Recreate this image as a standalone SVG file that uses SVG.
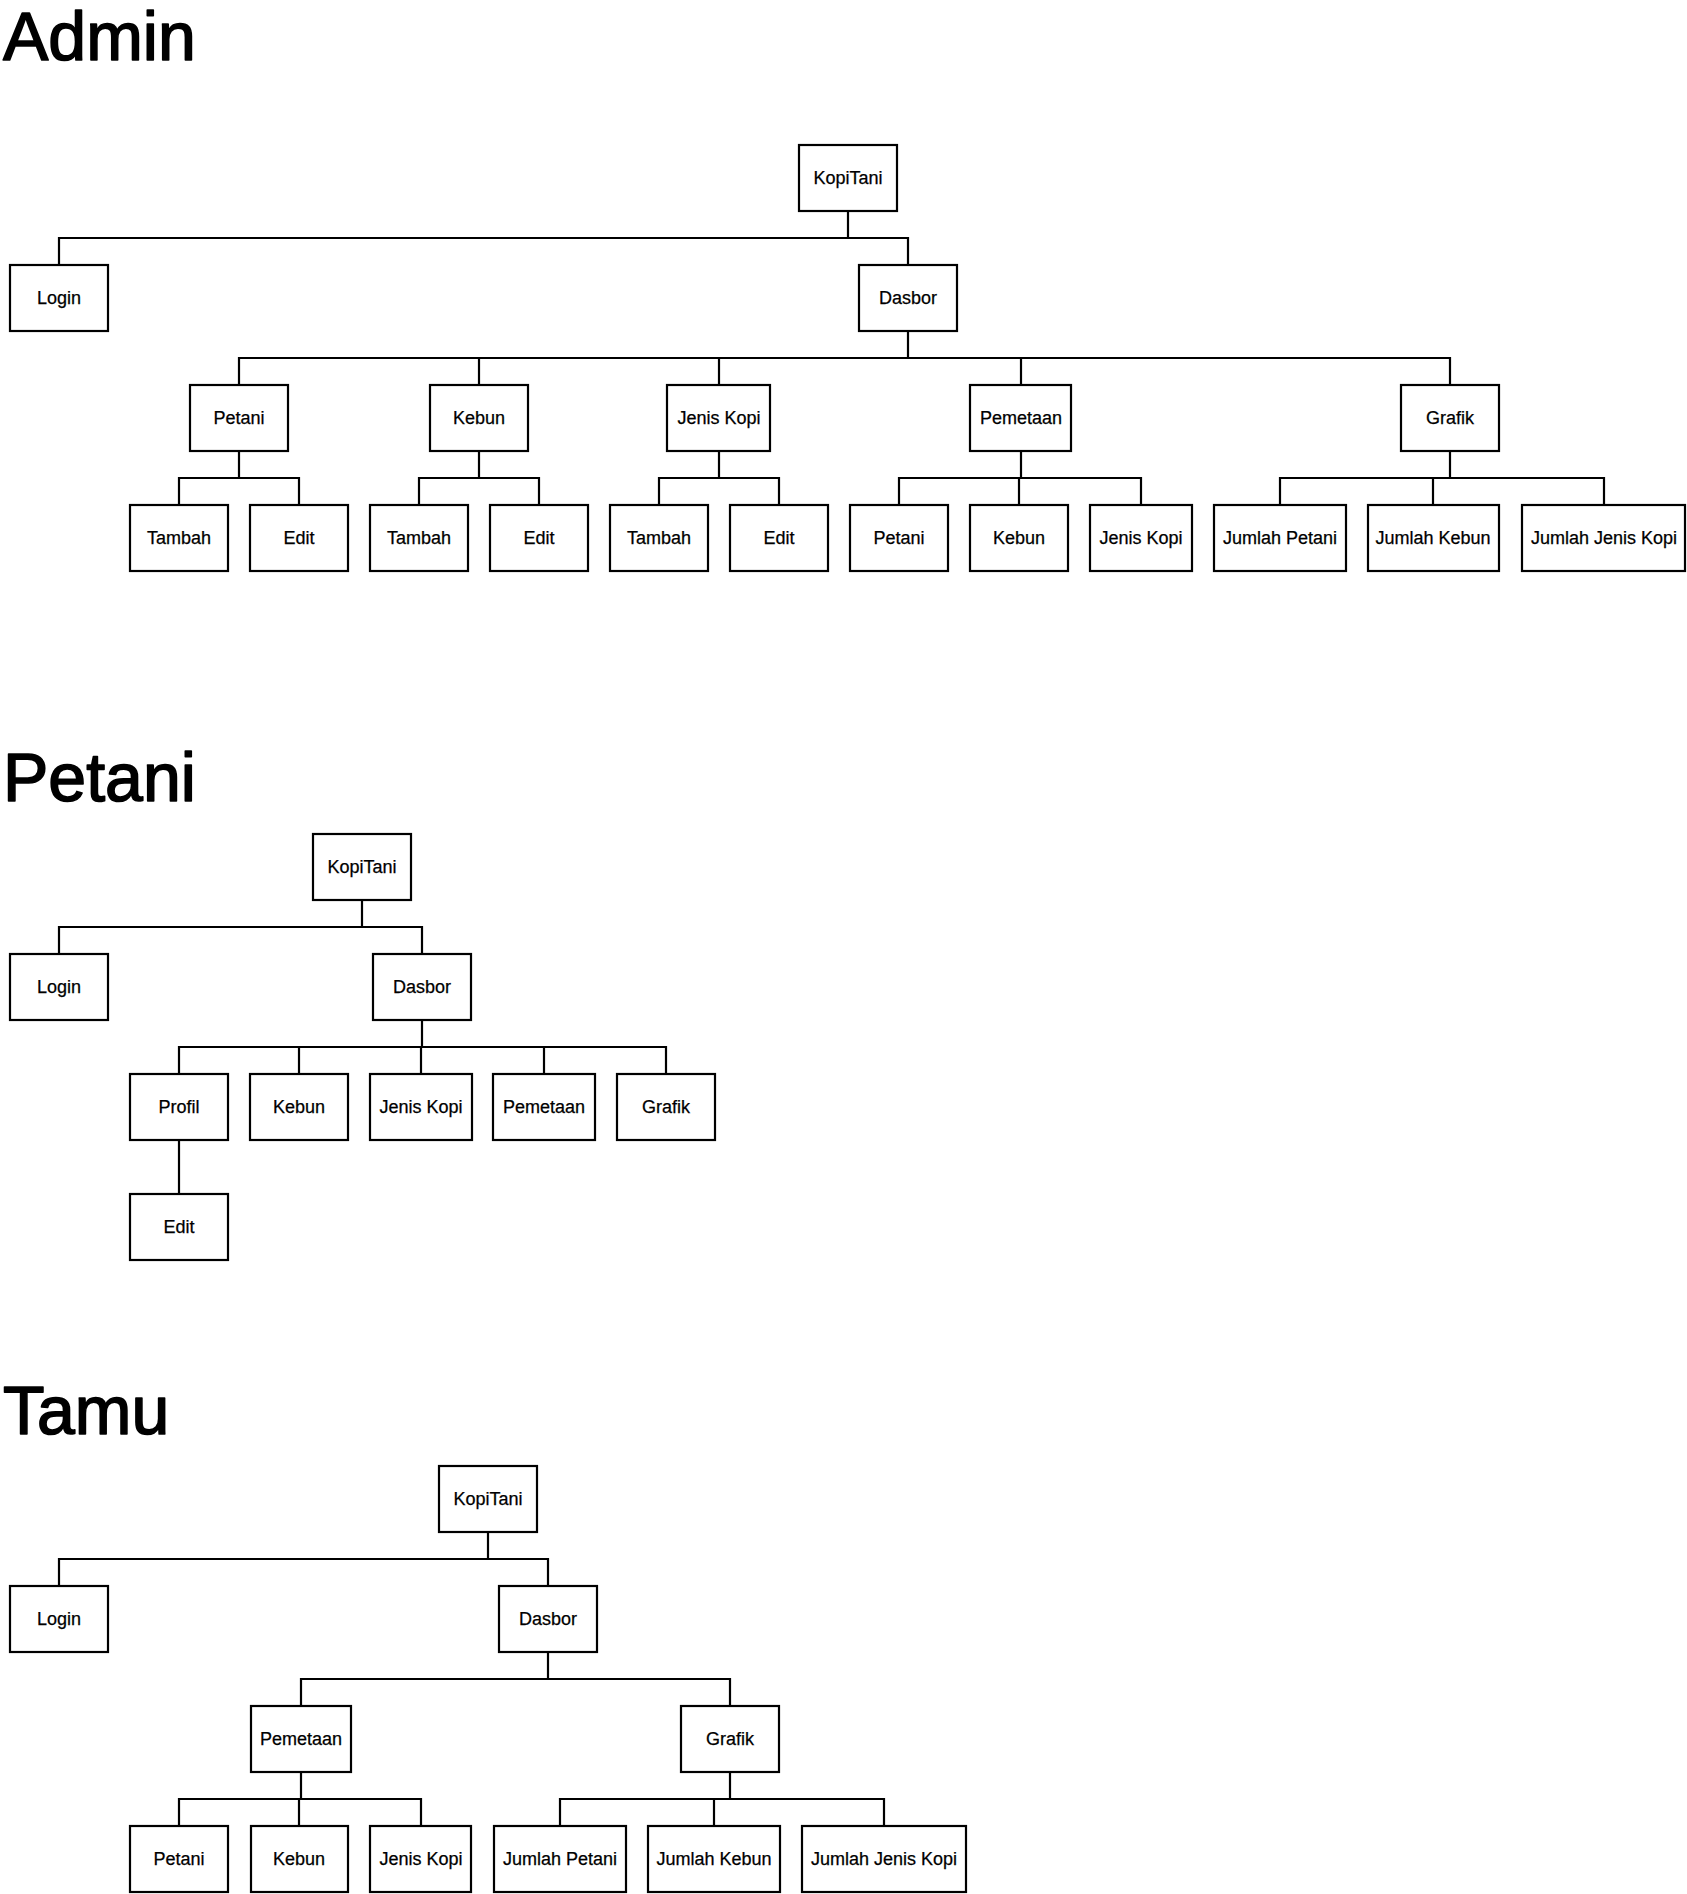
<svg xmlns="http://www.w3.org/2000/svg" width="1687" height="1894" viewBox="0 0 1687 1894">
<style>
.box{fill:#fff;stroke:#000;stroke-width:2.2}
.lbl{font-family:"Liberation Sans",Arial,sans-serif;font-size:18px;text-anchor:middle;fill:#000;stroke:#000;stroke-width:0.25}
.title{font-family:"Liberation Sans",Arial,sans-serif;font-size:68px;fill:#000;stroke:#000;stroke-width:1.6;stroke-linejoin:round}
.conn{fill:none;stroke:#000;stroke-width:2.2}
</style>
<rect width="1687" height="1894" fill="#fff"/>
<text class="title" x="3" y="60">Admin</text>
<text class="title" x="3" y="801">Petani</text>
<text class="title" x="3" y="1434">Tamu</text>

<g id="connectors">
<!-- Admin -->
<path class="conn" d="M848 211V238H59V265"/>
<path class="conn" d="M848 238H908V265"/>
<path class="conn" d="M908 331V358H239V385"/>
<path class="conn" d="M908 358H1450V385"/>
<path class="conn" d="M479 358V385"/>
<path class="conn" d="M719 358V385"/>
<path class="conn" d="M1021 358V385"/>
<path class="conn" d="M239 451V478H179V505"/>
<path class="conn" d="M239 478H299V505"/>
<path class="conn" d="M479 451V478H419V505"/>
<path class="conn" d="M479 478H539V505"/>
<path class="conn" d="M719 451V478H659V505"/>
<path class="conn" d="M719 478H779V505"/>
<path class="conn" d="M1021 451V478H899V505"/>
<path class="conn" d="M1021 478H1141V505"/>
<path class="conn" d="M1019 478V505"/>
<path class="conn" d="M1450 451V478H1280V505"/>
<path class="conn" d="M1450 478H1604V505"/>
<path class="conn" d="M1433 478V505"/>
<!-- Petani -->
<path class="conn" d="M362 900V927H59V954"/>
<path class="conn" d="M362 927H422V954"/>
<path class="conn" d="M422 1020V1047H179V1074"/>
<path class="conn" d="M422 1047H666V1074"/>
<path class="conn" d="M299 1047V1074"/>
<path class="conn" d="M421 1047V1074"/>
<path class="conn" d="M544 1047V1074"/>
<path class="conn" d="M179 1140V1194"/>
<!-- Tamu -->
<path class="conn" d="M488 1532V1559H59V1586"/>
<path class="conn" d="M488 1559H548V1586"/>
<path class="conn" d="M548 1652V1679H301V1706"/>
<path class="conn" d="M548 1679H730V1706"/>
<path class="conn" d="M301 1772V1799H179V1826"/>
<path class="conn" d="M301 1799H421V1826"/>
<path class="conn" d="M299 1799V1826"/>
<path class="conn" d="M730 1772V1799H560V1826"/>
<path class="conn" d="M730 1799H884V1826"/>
<path class="conn" d="M714 1799V1826"/>
</g>

<!-- Admin nodes -->
<g id="a-kopitani"><rect class="box" x="799" y="145" width="98" height="66"/><text class="lbl" x="848" y="184">KopiTani</text></g>
<g id="a-login"><rect class="box" x="10" y="265" width="98" height="66"/><text class="lbl" x="59" y="304">Login</text></g>
<g id="a-dasbor"><rect class="box" x="859" y="265" width="98" height="66"/><text class="lbl" x="908" y="304">Dasbor</text></g>
<g id="a-petani"><rect class="box" x="190" y="385" width="98" height="66"/><text class="lbl" x="239" y="424">Petani</text></g>
<g id="a-kebun"><rect class="box" x="430" y="385" width="98" height="66"/><text class="lbl" x="479" y="424">Kebun</text></g>
<g id="a-jeniskopi"><rect class="box" x="667" y="385" width="103" height="66"/><text class="lbl" x="719" y="424">Jenis Kopi</text></g>
<g id="a-pemetaan"><rect class="box" x="970" y="385" width="101" height="66"/><text class="lbl" x="1021" y="424">Pemetaan</text></g>
<g id="a-grafik"><rect class="box" x="1401" y="385" width="98" height="66"/><text class="lbl" x="1450" y="424">Grafik</text></g>
<g id="a-petani-tambah"><rect class="box" x="130" y="505" width="98" height="66"/><text class="lbl" x="179" y="544">Tambah</text></g>
<g id="a-petani-edit"><rect class="box" x="250" y="505" width="98" height="66"/><text class="lbl" x="299" y="544">Edit</text></g>
<g id="a-kebun-tambah"><rect class="box" x="370" y="505" width="98" height="66"/><text class="lbl" x="419" y="544">Tambah</text></g>
<g id="a-kebun-edit"><rect class="box" x="490" y="505" width="98" height="66"/><text class="lbl" x="539" y="544">Edit</text></g>
<g id="a-jenis-tambah"><rect class="box" x="610" y="505" width="98" height="66"/><text class="lbl" x="659" y="544">Tambah</text></g>
<g id="a-jenis-edit"><rect class="box" x="730" y="505" width="98" height="66"/><text class="lbl" x="779" y="544">Edit</text></g>
<g id="a-map-petani"><rect class="box" x="850" y="505" width="98" height="66"/><text class="lbl" x="899" y="544">Petani</text></g>
<g id="a-map-kebun"><rect class="box" x="970" y="505" width="98" height="66"/><text class="lbl" x="1019" y="544">Kebun</text></g>
<g id="a-map-jenis"><rect class="box" x="1090" y="505" width="102" height="66"/><text class="lbl" x="1141" y="544">Jenis Kopi</text></g>
<g id="a-jml-petani"><rect class="box" x="1214" y="505" width="132" height="66"/><text class="lbl" x="1280" y="544">Jumlah Petani</text></g>
<g id="a-jml-kebun"><rect class="box" x="1368" y="505" width="131" height="66"/><text class="lbl" x="1433" y="544">Jumlah Kebun</text></g>
<g id="a-jml-jenis"><rect class="box" x="1522" y="505" width="163" height="66"/><text class="lbl" x="1604" y="544">Jumlah Jenis Kopi</text></g>

<!-- Petani nodes -->
<g id="p-kopitani"><rect class="box" x="313" y="834" width="98" height="66"/><text class="lbl" x="362" y="873">KopiTani</text></g>
<g id="p-login"><rect class="box" x="10" y="954" width="98" height="66"/><text class="lbl" x="59" y="993">Login</text></g>
<g id="p-dasbor"><rect class="box" x="373" y="954" width="98" height="66"/><text class="lbl" x="422" y="993">Dasbor</text></g>
<g id="p-profil"><rect class="box" x="130" y="1074" width="98" height="66"/><text class="lbl" x="179" y="1113">Profil</text></g>
<g id="p-kebun"><rect class="box" x="250" y="1074" width="98" height="66"/><text class="lbl" x="299" y="1113">Kebun</text></g>
<g id="p-jeniskopi"><rect class="box" x="370" y="1074" width="102" height="66"/><text class="lbl" x="421" y="1113">Jenis Kopi</text></g>
<g id="p-pemetaan"><rect class="box" x="493" y="1074" width="102" height="66"/><text class="lbl" x="544" y="1113">Pemetaan</text></g>
<g id="p-grafik"><rect class="box" x="617" y="1074" width="98" height="66"/><text class="lbl" x="666" y="1113">Grafik</text></g>
<g id="p-edit"><rect class="box" x="130" y="1194" width="98" height="66"/><text class="lbl" x="179" y="1233">Edit</text></g>

<!-- Tamu nodes -->
<g id="t-kopitani"><rect class="box" x="439" y="1466" width="98" height="66"/><text class="lbl" x="488" y="1505">KopiTani</text></g>
<g id="t-login"><rect class="box" x="10" y="1586" width="98" height="66"/><text class="lbl" x="59" y="1625">Login</text></g>
<g id="t-dasbor"><rect class="box" x="499" y="1586" width="98" height="66"/><text class="lbl" x="548" y="1625">Dasbor</text></g>
<g id="t-pemetaan"><rect class="box" x="251" y="1706" width="100" height="66"/><text class="lbl" x="301" y="1745">Pemetaan</text></g>
<g id="t-grafik"><rect class="box" x="681" y="1706" width="98" height="66"/><text class="lbl" x="730" y="1745">Grafik</text></g>
<g id="t-petani"><rect class="box" x="130" y="1826" width="98" height="66"/><text class="lbl" x="179" y="1865">Petani</text></g>
<g id="t-kebun"><rect class="box" x="251" y="1826" width="97" height="66"/><text class="lbl" x="299" y="1865">Kebun</text></g>
<g id="t-jeniskopi"><rect class="box" x="370" y="1826" width="101" height="66"/><text class="lbl" x="421" y="1865">Jenis Kopi</text></g>
<g id="t-jml-petani"><rect class="box" x="494" y="1826" width="132" height="66"/><text class="lbl" x="560" y="1865">Jumlah Petani</text></g>
<g id="t-jml-kebun"><rect class="box" x="648" y="1826" width="132" height="66"/><text class="lbl" x="714" y="1865">Jumlah Kebun</text></g>
<g id="t-jml-jenis"><rect class="box" x="802" y="1826" width="164" height="66"/><text class="lbl" x="884" y="1865">Jumlah Jenis Kopi</text></g>
</svg>
